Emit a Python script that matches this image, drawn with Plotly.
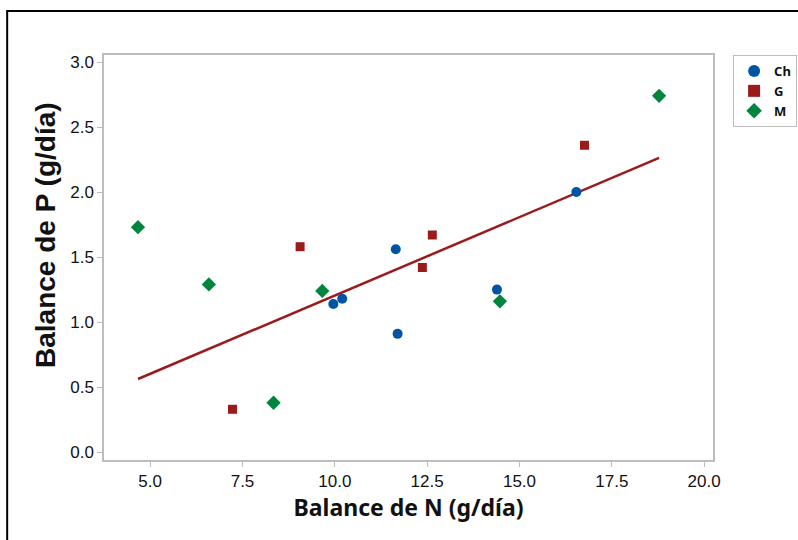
import numpy as np
import plotly.graph_objects as go

# Data
ch_x = [9.96, 10.20, 11.65, 11.70, 14.39, 16.54]
ch_y = [1.14, 1.18, 1.56, 0.91, 1.25, 2.00]
g_x = [7.23, 9.06, 12.37, 12.64, 16.76]
g_y = [0.33, 1.58, 1.42, 1.67, 2.36]
m_x = [4.67, 6.59, 8.34, 9.66, 14.47, 18.78]
m_y = [1.73, 1.29, 0.38, 1.24, 1.16, 2.74]

x_ticks = [5.0, 7.5, 10.0, 12.5, 15.0, 17.5, 20.0]
y_ticks = [0.0, 0.5, 1.0, 1.5, 2.0, 2.5, 3.0]

blue = "#0054A6"
red = "#9B1B1B"
green = "#00853E"

# Regression line through the origin, fitted on all points
all_x = np.array(ch_x + g_x + m_x)
all_y = np.array(ch_y + g_y + m_y)
slope = float(np.sum(all_x * all_y) / np.sum(all_x ** 2))
lx = np.array([all_x.min(), all_x.max()])
ly = slope * lx

fig = go.Figure()
fig.add_trace(go.Scatter(x=lx, y=ly, mode="lines", line=dict(color=red, width=2.5),
                         showlegend=False, hoverinfo="skip"))
fig.add_trace(go.Scatter(x=ch_x, y=ch_y, mode="markers", name="Ch",
                         marker=dict(symbol="circle", size=10, color=blue)))
fig.add_trace(go.Scatter(x=g_x, y=g_y, mode="markers", name="G",
                         marker=dict(symbol="square", size=9, color=red)))
fig.add_trace(go.Scatter(x=m_x, y=m_y, mode="markers", name="M",
                         marker=dict(symbol="diamond", size=11, color=green)))

axis_common = dict(
    showline=True, linecolor="#BDBDBD", linewidth=1.5, mirror=True,
    ticks="outside", ticklen=5, tickcolor="#BDBDBD", tickwidth=1,
    showgrid=False, zeroline=False,
    tickfont=dict(family="Liberation Sans, Arial", size=17, color="#111111"),
)

fig.update_layout(
    width=798, height=540,
    margin=dict(l=104, r=85, t=55, b=80, autoexpand=False),
    paper_bgcolor="white", plot_bgcolor="white",
    xaxis=dict(range=[3.75, 20.24], tickvals=x_ticks,
               ticktext=[f"{v:.1f}" for v in x_ticks],
               title=dict(text="Balance de N (g/día)", standoff=10,
                          font=dict(family="Noto Sans", size=23, color="#111111", weight="bold")),
               **axis_common),
    yaxis=dict(range=[-0.06, 3.054], tickvals=y_ticks,
               ticktext=[f"{v:.1f}" for v in y_ticks],
               **axis_common),
    legend=dict(x=1.033, y=1.0, xanchor="left", yanchor="top",
                bordercolor="#BDBDBD", borderwidth=1,
                font=dict(family="Noto Sans", size=13, color="#111111", weight="bold"),
                itemsizing="constant", tracegroupgap=0),
    annotations=[dict(text="Balance de P (g/día)", textangle=-90,
                      xref="paper", yref="paper",
                      x=(45 - 104) / 609, y=(460 - 235) / 405,
                      xanchor="center", yanchor="middle", showarrow=False,
                      font=dict(family="Liberation Sans, Arial", size=28,
                                color="#111111", weight="bold"))],
    shapes=[dict(type="path", xref="paper", yref="paper",
                 path="M -0.159 -0.3 L -0.159 1.1086 L 1.5 1.1086",
                 line=dict(color="black", width=2))],
)

fig.write_html("out.html")
